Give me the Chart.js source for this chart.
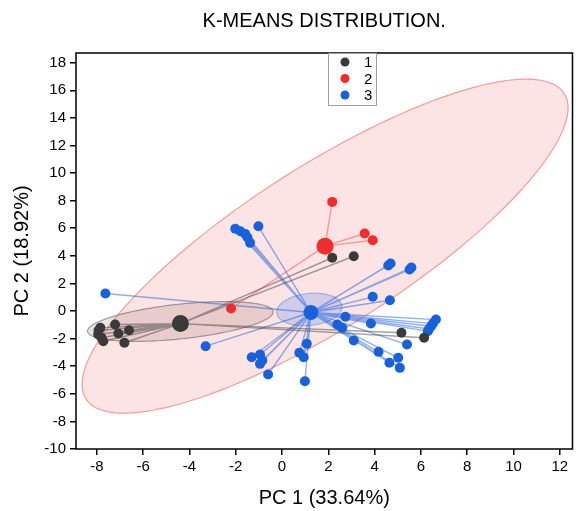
<!DOCTYPE html>
<html>
<head>
<meta charset="utf-8">
<script src="https://cdn.jsdelivr.net/npm/chart.js@4.4.1/dist/chart.umd.min.js"></script>
<style>
  html, body { margin: 0; padding: 0; background: #fff; }
  #wrap { width: 581px; height: 511px; }
</style>
</head>
<body>
<div id="wrap"><canvas id="kmeansChart"></canvas></div>
<script>
// K-means scores on PC1 / PC2

const clusterNames = ['1', '2', '3'];
const clusterColors = ['#3a3a3a', '#f22c2c', '#1762dc'];
const linkColors = ['rgba(70,70,70,0.5)', 'rgba(240,90,90,0.55)', 'rgba(30,100,220,0.5)'];

const centroids = [[-4.39, -0.91], [1.86, 4.70], [1.25, -0.11]];

const cluster1 = [
    [-7.85, -1.22], [-7.94, -1.70], [-7.80, -1.94], [-7.72, -2.19], [-7.93, -1.41],
    [-7.21, -0.98], [-7.07, -1.63], [-6.61, -1.39], [-6.81, -2.30],
    [2.17, 3.86], [3.10, 3.97], [5.16, -1.58], [6.14, -1.94]
];
const cluster2 = [
    [2.17, 7.91], [3.57, 5.62], [3.92, 5.13], [-2.20, 0.18]
];
const cluster3 = [
    [-7.63, 1.27], [-2.02, 5.96], [-1.80, 5.78], [-1.59, 5.59], [-1.49, 5.33], [-1.38, 4.94],
    [-1.02, 6.14], [4.59, 3.30], [4.69, 3.44], [5.51, 3.01], [5.59, 3.15], [3.92, 1.03],
    [4.66, 0.78], [2.74, -0.42], [3.84, -0.91], [2.39, -0.98], [2.60, -1.22], [6.65, -0.62],
    [6.52, -0.91], [6.44, -1.10], [6.35, -1.30], [6.30, -1.46], [3.10, -2.14], [5.40, -2.43],
    [4.17, -2.96], [4.64, -3.75], [5.02, -3.39], [5.09, -4.12], [1.07, -2.38], [0.75, -3.03],
    [0.94, -3.35], [0.99, -5.09], [-3.30, -2.55], [-1.31, -3.35], [-0.95, -3.15], [-0.95, -3.83],
    [-0.85, -3.59], [-0.60, -4.60]
];
const clusters = [cluster1, cluster2, cluster3];

// confidence ellipses: centre and two semi-axis vectors, in data units
const ellipseCenters = [[-4.39, -0.76], [1.86, 4.70], [1.18, 0.11]];
const ellipseAxisA = [[4.01, 0.72], [10.34, 11.05], [1.41, 0.22]];
const ellipseAxisB = [[0.08, -1.25], [1.83, -4.95], [0.04, -1.16]];
const ellipseFills = ['rgba(130,90,90,0.17)', 'rgba(250,170,170,0.32)', 'rgba(130,160,235,0.35)'];
const ellipseStrokes = ['rgba(90,90,90,0.55)', 'rgba(240,120,120,0.7)', 'rgba(110,145,230,0.6)'];

const xTicks = [-8, -6, -4, -2, 0, 2, 4, 6, 8, 10, 12];
const yTicks = [-10, -8, -6, -4, -2, 0, 2, 4, 6, 8, 10, 12, 14, 16, 18];

const chartTitle = 'K-MEANS DISTRIBUTION.';
const xTitle = 'PC 1 (33.64%)';
const yTitle = 'PC 2 (18.92%)';

const FONT = '"Liberation Sans", Arial, sans-serif';

const toXY = p => ({ x: p[0], y: p[1] });

// build datasets
const datasets = [];
clusters.forEach((pts, i) => {
    const c = toXY(centroids[i]);
    const links = [];
    pts.forEach(p => { links.push(c, toXY(p), { x: null, y: null }); });
    datasets.push({
        label: 'links' + i,
        data: links,
        showLine: true,
        spanGaps: false,
        borderColor: linkColors[i],
        borderWidth: 1.4,
        pointRadius: 0,
        order: 10
    });
});
clusters.forEach((pts, i) => {
    datasets.push({
        label: clusterNames[i],
        data: pts.map(toXY),
        backgroundColor: clusterColors[i],
        borderWidth: 0,
        pointRadius: 5,
        order: 2
    });
});
clusters.forEach((pts, i) => {
    datasets.push({
        label: 'centroid' + i,
        data: [toXY(centroids[i])],
        backgroundColor: clusterColors[i],
        borderWidth: 0,
        pointRadius: i === 2 ? 7.5 : 8.5,
        order: 1
    });
});

const ellipsePlugin = {
    id: 'ellipses',
    beforeDatasetsDraw(chart) {
        const { ctx, chartArea, scales } = chart;
        ctx.save();
        ctx.beginPath();
        ctx.rect(chartArea.left, chartArea.top, chartArea.width, chartArea.height);
        ctx.clip();
        [1, 0, 2].forEach(i => {
            const c = ellipseCenters[i], a = ellipseAxisA[i], b = ellipseAxisB[i];
            ctx.beginPath();
            for (let k = 0; k <= 144; k++) {
                const t = k / 144 * Math.PI * 2;
                const px = scales.x.getPixelForValue(c[0] + a[0] * Math.cos(t) + b[0] * Math.sin(t));
                const py = scales.y.getPixelForValue(c[1] + a[1] * Math.cos(t) + b[1] * Math.sin(t));
                if (k === 0) ctx.moveTo(px, py); else ctx.lineTo(px, py);
            }
            ctx.closePath();
            ctx.fillStyle = ellipseFills[i];
            ctx.fill();
            ctx.strokeStyle = ellipseStrokes[i];
            ctx.lineWidth = 1.2;
            ctx.stroke();
        });
        ctx.restore();
    }
};

const framePlugin = {
    id: 'frame',
    afterDraw(chart) {
        const { ctx, chartArea } = chart;
        ctx.save();
        // plot box
        ctx.strokeStyle = '#000';
        ctx.lineWidth = 1.5;
        ctx.strokeRect(chartArea.left, chartArea.top, chartArea.width, chartArea.height);

        // title, centred over the plot
        ctx.fillStyle = '#000';
        ctx.font = '20px ' + FONT;
        ctx.textAlign = 'center';
        ctx.textBaseline = 'middle';
        ctx.fillText(chartTitle, (chartArea.left + chartArea.right) / 2, 21);

        // legend box
        const lx = 328, ly = chartArea.top, lw = 48, lh = 52;
        ctx.fillStyle = '#fff';
        ctx.fillRect(lx, ly, lw, lh);
        ctx.strokeStyle = '#a0a0a0';
        ctx.lineWidth = 1;
        ctx.strokeRect(lx + 0.5, ly + 0.5, lw, lh);
        ctx.font = '15px ' + FONT;
        ctx.textAlign = 'left';
        clusterNames.forEach((name, i) => {
            const yy = ly + 9 + i * 16.5;
            ctx.beginPath();
            ctx.arc(lx + 17, yy, 4.5, 0, Math.PI * 2);
            ctx.fillStyle = clusterColors[i];
            ctx.fill();
            ctx.fillStyle = '#000';
            ctx.fillText(name, lx + 36, yy + 1);
        });
        ctx.restore();
    }
};

new Chart(document.getElementById('kmeansChart'), {
    type: 'scatter',
    data: { datasets: datasets },
    options: {
        responsive: true,
        maintainAspectRatio: false,
        animation: false,
        layout: { padding: { left: 0, right: 1, top: 53, bottom: 0 } },
        plugins: {
            legend: { display: false },
            tooltip: { enabled: false },
            title: { display: false }
        },
        scales: {
            x: {
                type: 'linear',
                min: -8.9,
                max: 12.55,
                afterBuildTicks: axis => { axis.ticks = xTicks.map(v => ({ value: v })); },
                afterFit: axis => { axis.height = 62; axis.paddingLeft = 0; axis.paddingRight = 0; },
                border: { display: false },
                grid: { drawOnChartArea: false, drawTicks: true, tickLength: 6, color: '#000', lineWidth: 1.5 },
                ticks: { color: '#000', font: { family: FONT, size: 15 }, padding: 3, maxRotation: 0 },
                title: { display: true, text: xTitle, color: '#000', font: { family: FONT, size: 20 }, padding: { top: 0, bottom: 1 } }
            },
            y: {
                type: 'linear',
                min: -10,
                max: 18.7,
                afterBuildTicks: axis => { axis.ticks = yTicks.map(v => ({ value: v })); },
                afterFit: axis => { axis.width = 76; axis.paddingTop = 0; axis.paddingBottom = 0; },
                border: { display: false },
                grid: { drawOnChartArea: false, drawTicks: true, tickLength: 6, color: '#000', lineWidth: 1.5 },
                ticks: { color: '#000', font: { family: FONT, size: 15 }, padding: 4 },
                title: { display: true, text: yTitle, color: '#000', font: { family: FONT, size: 20 }, padding: { top: 10, bottom: 0 } }
            }
        }
    },
    plugins: [ellipsePlugin, framePlugin]
});
</script>
</body>
</html>
